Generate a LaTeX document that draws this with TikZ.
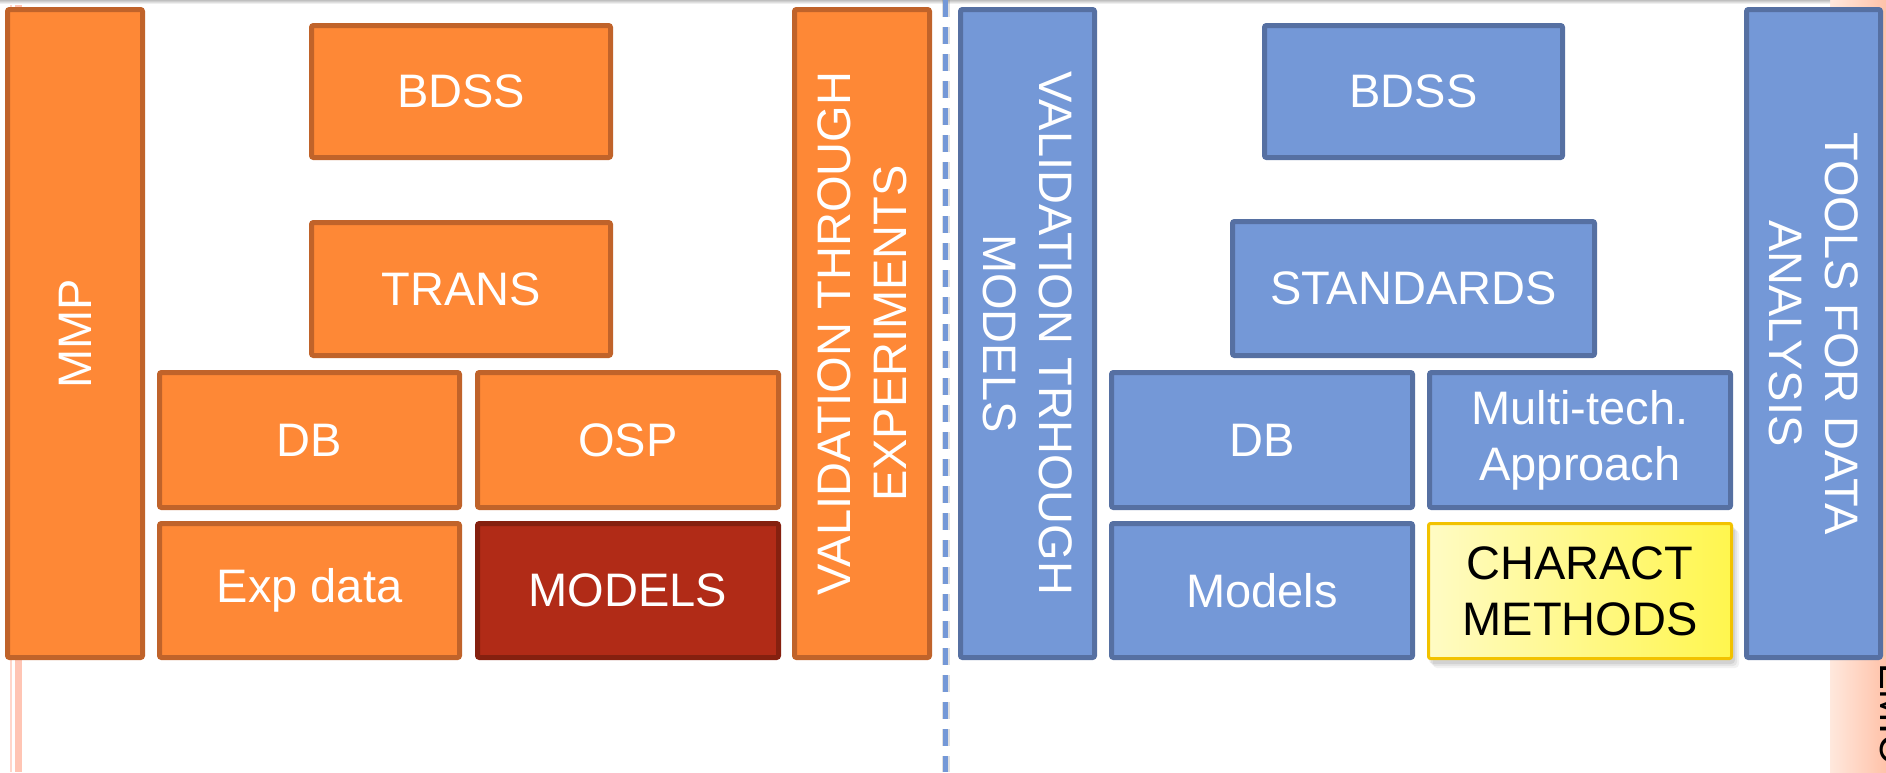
\documentclass[tikz,border=0pt]{standalone}
\usepackage{fontspec}
\setmainfont{Liberation Sans}
\definecolor{orfill}{HTML}{FE8836}
\definecolor{orline}{HTML}{C0632A}
\definecolor{rdfill}{HTML}{B12B17}
\definecolor{rdline}{HTML}{85200F}
\definecolor{blfill}{HTML}{7498D7}
\definecolor{blline}{HTML}{5670A2}
\definecolor{ylline}{HTML}{F2C200}
\definecolor{ylleft}{HTML}{FFFBC4}
\definecolor{ylright}{HTML}{FFF64E}
\definecolor{pinkA}{HTML}{FFD6CA}
\definecolor{pinkB}{HTML}{FFC5B4}
\definecolor{pinkL}{HTML}{FFE8DD}
\definecolor{pinkR}{HTML}{FFC2A9}
\begin{document}
\begin{tikzpicture}[x=1pt,y=-1pt,
  box/.style={draw, line width=5pt, rounded corners=2pt, inner sep=0pt, align=center,
              text=white, font=\fontsize{47}{56}\selectfont},
  obox/.style={box, fill=orfill, draw=orline},
  rbox/.style={box, fill=rdfill, draw=rdline},
  bbox/.style={box, fill=blfill, draw=blline},
  ybox/.style={box, line width=3pt, draw=ylline, left color=ylleft, right color=ylright, text=black},
  divider/.style={draw=blfill, line width=5pt, dash pattern=on 17pt off 10pt}
]
\useasboundingbox (0,0) rectangle (1886,772);
\begin{scope}
\clip (0,0) rectangle (1886,772);
% background decorations
\fill[pinkA] (10,0) rectangle (12,772);
\fill[pinkB] (15,0) rectangle (22,772);
\shade[left color=pinkL, right color=pinkR] (1830,0) rectangle (1886,772);
\shade[top color=black!25, bottom color=white] (0,0) rectangle (1830,4);
\node[rotate=-90, anchor=base west, inner sep=0pt, font=\fontsize{40}{48}\selectfont] (edge) at (1880,663) {EMIC};

% divider
\coordinate (dtop) at (945,0);
\coordinate (dbot) at (945,772);
\draw[divider, draw=black, opacity=0.12, line width=8pt] ([xshift=1pt]dtop) -- ([xshift=1pt]dbot);
\draw[divider] (dtop) -- (dbot);

% left (orange) side
\node[obox, minimum width=135pt, minimum height=648pt] (mmp) at (75,333.5) {};
\node[rotate=90, text=white, font=\fontsize{47}{56}\selectfont] (mmptext) at (mmp.center) {MMP};
\node[obox, minimum width=299pt, minimum height=132pt] (bdssA) at (461,91.5) {BDSS};
\node[obox, minimum width=299pt, minimum height=133pt] (trans) at (461,289) {TRANS};
\node[obox, minimum width=300pt, minimum height=135pt] (dbA) at (309.5,440) {DB};
\node[obox, minimum width=301pt, minimum height=135pt] (osp) at (628,440) {OSP};
\node[obox, minimum width=300pt, minimum height=134pt] (exp) at (309.5,590.5) {Exp data};
\node[rbox, minimum width=301pt, minimum height=134pt] (modelsA) at (628,590.5) {MODELS};
\node[obox, rotate=90, minimum width=648pt, minimum height=135pt] (valexp) at (862,333.5) {VALIDATION THROUGH\\EXPERIMENTS};

% right (blue) side
\node[bbox, rotate=-90, minimum width=648pt, minimum height=134pt] (valmod) at (1027.5,333.5) {VALIDATION TRHOUGH\\MODELS};
\node[bbox, minimum width=298pt, minimum height=132pt] (bdssB) at (1413.5,91.5) {BDSS};
\node[bbox, minimum width=362pt, minimum height=134pt] (std) at (1413.5,288.5) {STANDARDS};
\node[bbox, minimum width=301pt, minimum height=135pt] (dbB) at (1262,440) {DB};
\node[bbox, minimum width=301pt, minimum height=135pt] (multi) at (1580,440) {Multi-tech.\\Approach};
\node[bbox, minimum width=301pt, minimum height=134pt] (modelsB) at (1262,590.5) {Models};
% shadow of the yellow box
\foreach \s/\o in {8/0.05,6/0.06,4/0.08} {
  \fill[black, opacity=\o, rounded corners=4pt] (1427+\s-2,522+\s) rectangle (1733+\s-2,660+\s);
}
\node[ybox, minimum width=303pt, minimum height=135pt] (charact) at (1580,591) {CHARACT\\METHODS};
\node[bbox, rotate=-90, minimum width=648pt, minimum height=134pt] (tools) at (1813.5,333.5) {TOOLS FOR DATA\\ANALYSIS};
\end{scope}
\end{tikzpicture}
\end{document}
